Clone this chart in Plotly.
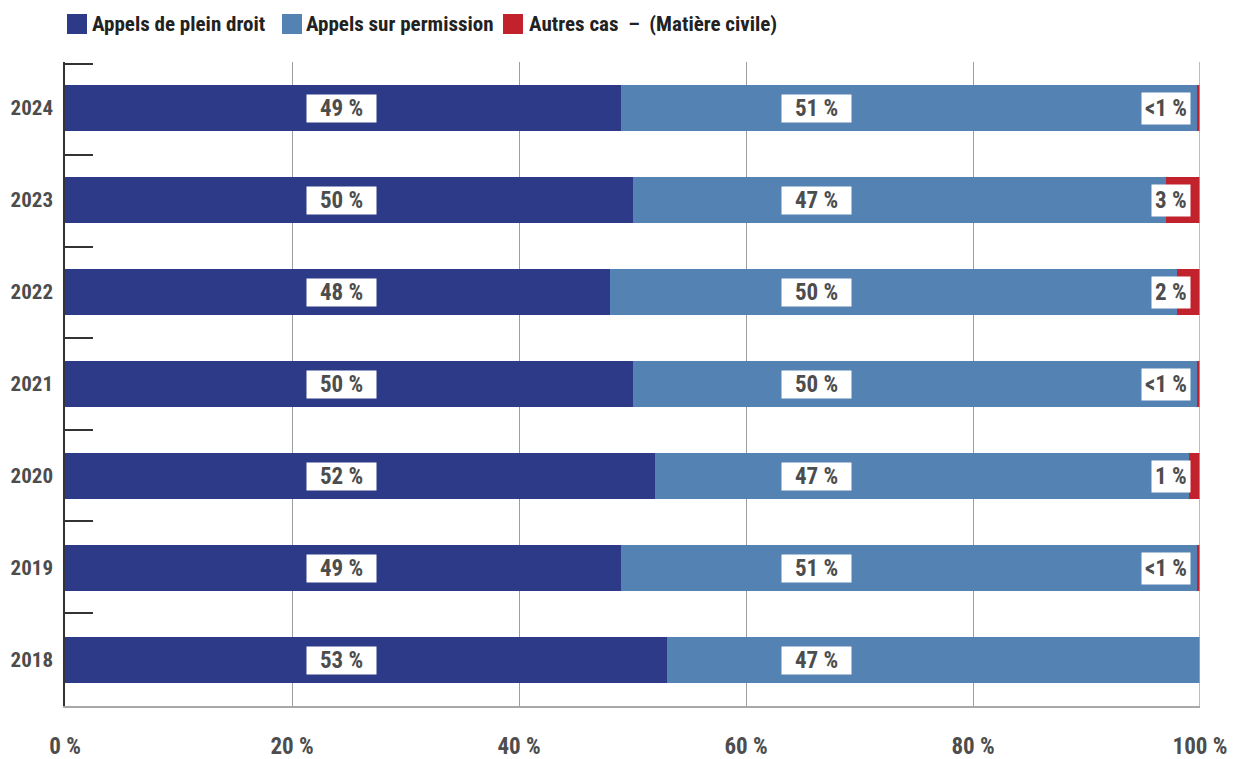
import plotly.graph_objects as go

years = ["2024", "2023", "2022", "2021", "2020", "2019", "2018"]
plein_droit = [49, 50, 48, 50, 52, 49, 53]
permission = [50.7, 47, 50, 49.7, 47, 50.7, 47]
autres = [0.3, 3, 2, 0.3, 1, 0.3, 0]
lbl_plein = ["49 %", "50 %", "48 %", "50 %", "52 %", "49 %", "53 %"]
lbl_perm = ["51 %", "47 %", "50 %", "50 %", "47 %", "51 %", "47 %"]
lbl_autres = ["<1 %", "3 %", "2 %", "<1 %", "1 %", "<1 %", ""]
series_names = ["Appels de plein droit", "Appels sur permission", "Autres cas  –  (Matière civile)"]
x_ticks = [0, 20, 40, 60, 80, 100]
x_ticktext = ["0 %", "20 %", "40 %", "60 %", "80 %", "100 %"]

FONT = "Noto Sans Condensed, Roboto Condensed, Liberation Sans Narrow, Roboto, sans-serif"
TXT = "#4d4d4d"
COLORS = ["#2d3a88", "#5482b2", "#c1222b"]
cat_order = years[::-1]

W, H = 1233, 759
ML, MR, MT, MB = 65, 33, 62, 53
PW, PH = W - ML - MR, H - MT - MB


def px_x(px):
    return (px - ML) / PW


def px_y(py):
    return 1 + (MT - py) / PH


fig = go.Figure()
for vals, col, name in zip([plein_droit, permission, autres], COLORS, series_names):
    fig.add_trace(go.Bar(y=years, x=vals, orientation="h", showlegend=False, name=name,
                         marker=dict(color=col, line=dict(width=0)), hoverinfo="name+x+y"))

# invisible trace to carry boundary ticks on a numeric y axis
fig.add_trace(go.Scatter(x=[None], y=[None], yaxis="y2", showlegend=False, hoverinfo="skip"))

afont = dict(family=FONT, size=23, color=TXT)
ann = []
for i, y in enumerate(years):
    yi = cat_order.index(y)
    ann.append(dict(x=24.4, y=yi, text="<b>%s</b>" % lbl_plein[i], showarrow=False, bgcolor="white",
                    width=67, height=25, font=afont, xanchor="center"))
    ann.append(dict(x=66.2, y=yi, text="<b>%s</b>" % lbl_perm[i], showarrow=False, bgcolor="white",
                    width=67, height=25, font=afont, xanchor="center"))
    if lbl_autres[i]:
        ann.append(dict(x=99.2, y=yi, text="<b>%s</b>" % lbl_autres[i], showarrow=False, bgcolor="white",
                        height=25, borderpad=3, font=afont, xanchor="right"))

# manual legend (swatch + label)
leg_sw_left = [67, 282, 503]
leg_text_left = [90, 304, 527]
shapes = []
for name, col, sl, tl in zip(series_names, COLORS, leg_sw_left, leg_text_left):
    shapes.append(dict(type="rect", xref="paper", yref="paper", x0=px_x(sl), x1=px_x(sl + 20),
                       y0=px_y(34), y1=px_y(14), fillcolor=col, line=dict(width=0)))
    ann.append(dict(xref="paper", yref="paper", x=px_x(tl), y=px_y(24), xanchor="left", yanchor="middle",
                    text="<b>%s</b>" % name, showarrow=False,
                    font=dict(family=FONT, size=21, color="#222")))

shapes.append(dict(type="line", xref="x", yref="paper", x0=100, x1=100, y0=0, y1=1,
                   line=dict(color="#a8a8a8", width=1.5), layer="above"))

fig.update_layout(
    barmode="stack",
    bargap=0.51,
    width=W, height=H,
    margin=dict(l=ML, r=MR, t=MT, b=MB, autoexpand=False),
    plot_bgcolor="white", paper_bgcolor="white",
    font=dict(family=FONT, color=TXT, size=19),
    showlegend=False,
    xaxis=dict(range=[0, 100], tickvals=x_ticks, ticktext=["<b>%s</b>" % t for t in x_ticktext],
               showgrid=True, gridcolor="#9e9e9e", gridwidth=1, zeroline=False, automargin=False,
               showline=True, linecolor="#a8a8a8", linewidth=1.5, ticks="",
               ticklabelstandoff=19, tickfont=dict(family=FONT, size=23, color=TXT),
               fixedrange=True),
    yaxis=dict(type="category", categoryorder="array", categoryarray=cat_order, range=[-0.5, 6.5],
               tickvals=years, ticktext=["<b>%s</b>" % y for y in years], automargin=False,
               showline=True, linecolor="#333", linewidth=1.5, ticks="", showgrid=False,
               ticklabelstandoff=6, tickfont=dict(family=FONT, size=21, color=TXT)),
    yaxis2=dict(overlaying="y", side="left", range=[-0.52, 6.52], tickvals=[k - 0.5 for k in range(1, 8)],
                ticks="inside", ticklen=28, tickwidth=1.5, tickcolor="#333", showticklabels=False,
                showgrid=False, zeroline=False, showline=False, automargin=False),
    annotations=ann,
    shapes=shapes,
)
fig.write_html("out.html", config={"displayModeBar": False},
               post_script="document.body.style.margin='0';document.body.style.overflow='hidden';")
